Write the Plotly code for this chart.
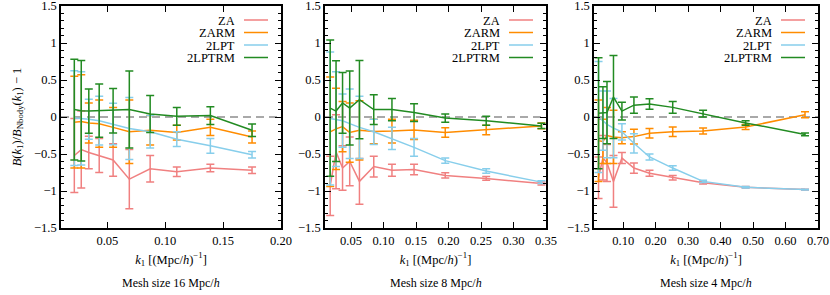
import plotly.graph_objects as go

# ---------------- data ----------------
series_names = ["ZA", "ZARM", "2LPT", "2LPTRM"]
panel_titles = ["Mesh size 16 Mpc/<i>h</i>", "Mesh size 8 Mpc/<i>h</i>", "Mesh size 4 Mpc/<i>h</i>"]

k16 = [0.0215, 0.0275, 0.034, 0.043, 0.055, 0.069, 0.087, 0.110, 0.139, 0.175]
za16 = [-0.52, -0.44, -0.48, -0.52, -0.58, -0.84, -0.70, -0.74, -0.69, -0.72]
za16_err = [0.50, 0.52, 0.22, 0.23, 0.22, 0.40, 0.18, 0.065, 0.05, 0.045]
zarm16 = [-0.07, -0.06, -0.08, -0.09, -0.14, -0.20, -0.18, -0.21, -0.14, -0.27]
zarm16_err = [0.62, 0.63, 0.27, 0.32, 0.27, 0.43, 0.20, 0.10, 0.11, 0.08]
lpt16 = [-0.015, -0.02, -0.03, -0.05, -0.095, -0.155, -0.20, -0.30, -0.39, -0.51]
lpt16_err = [0.64, 0.63, 0.27, 0.33, 0.28, 0.42, 0.22, 0.10, 0.10, 0.045]
lptrm16 = [0.10, 0.085, 0.08, 0.085, 0.085, 0.10, 0.04, 0.01, 0.02, -0.18]
lptrm16_err = [0.68, 0.68, 0.30, 0.36, 0.30, 0.52, 0.25, 0.12, 0.12, 0.085]

k8 = [0.018, 0.027, 0.037, 0.048, 0.063, 0.085, 0.113, 0.147, 0.195, 0.258, 0.343]
za8 = [-0.93, -0.47, -0.69, -0.60, -0.87, -0.67, -0.72, -0.71, -0.79, -0.83, -0.90]
za8_err = [0.40, 0.50, 0.30, 0.33, 0.31, 0.14, 0.08, 0.07, 0.035, 0.025, 0.02]
zarm8 = [-0.20, -0.16, -0.13, -0.21, -0.18, -0.195, -0.19, -0.175, -0.21, -0.175, -0.12]
zarm8_err = [0.74, 0.55, 0.34, 0.40, 0.40, 0.165, 0.16, 0.13, 0.065, 0.065, 0.04]
lpt8 = [-0.02, -0.03, -0.05, -0.09, -0.14, -0.20, -0.29, -0.41, -0.59, -0.73, -0.88]
lpt8_err = [0.90, 0.64, 0.36, 0.47, 0.42, 0.17, 0.15, 0.12, 0.035, 0.03, 0.02]
lptrm8 = [0.12, 0.08, 0.19, 0.12, 0.235, 0.10, 0.10, 0.06, -0.015, -0.05, -0.12]
lptrm8_err = [0.92, 0.68, 0.41, 0.50, 0.53, 0.20, 0.15, 0.12, 0.055, 0.06, 0.035]

k4 = [0.024, 0.0375, 0.05, 0.07, 0.096, 0.133, 0.181, 0.2525, 0.346, 0.477, 0.66]
za4 = [-0.82, -0.55, -0.62, -0.87, -0.555, -0.69, -0.76, -0.82, -0.89, -0.95, -0.98]
za4_err = [0.28, 0.30, 0.25, 0.35, 0.075, 0.07, 0.04, 0.03, 0.015, 0.01, 0.005]
zarm4 = [-0.32, -0.33, -0.25, -0.27, -0.28, -0.265, -0.22, -0.20, -0.19, -0.135, 0.03]
zarm4_err = [0.55, 0.30, 0.38, 0.36, 0.08, 0.10, 0.065, 0.065, 0.04, 0.035, 0.04]
lpt4 = [0.0, -0.05, -0.10, -0.15, -0.20, -0.355, -0.54, -0.69, -0.87, -0.95, -0.98]
lpt4_err = [0.75, 0.40, 0.45, 0.40, 0.11, 0.13, 0.04, 0.03, 0.015, 0.01, 0.005]
lptrm4 = [0.05, 0.06, 0.06, 0.27, 0.08, 0.16, 0.175, 0.13, 0.045, -0.08, -0.235]
lptrm4_err = [0.75, 0.35, 0.42, 0.56, 0.12, 0.11, 0.07, 0.08, 0.045, 0.03, 0.02]

x_ranges = [[0.01, 0.20], [0.01, 0.35], [0.01, 0.70]]
x_dticks = [0.05, 0.05, 0.1]

# ---------------- style ----------------
colors = ["#F08080", "#FF8C00", "#87CEEB", "#228B22"]
FONT = "Liberation Serif"
W, H = 830, 295
x_domains_px = [(61, 281), (325, 546), (594, 818)]
y_top_px, y_bot_px = 6, 228

panels = [
    (k16, [(za16, za16_err), (zarm16, zarm16_err), (lpt16, lpt16_err), (lptrm16, lptrm16_err)]),
    (k8, [(za8, za8_err), (zarm8, zarm8_err), (lpt8, lpt8_err), (lptrm8, lptrm8_err)]),
    (k4, [(za4, za4_err), (zarm4, zarm4_err), (lpt4, lpt4_err), (lptrm4, lptrm4_err)]),
]

fig = go.Figure()
shapes = []
annotations = []

for p, (k, series) in enumerate(panels):
    xa = "x" if p == 0 else f"x{p+1}"
    ya = "y" if p == 0 else f"y{p+1}"
    for s, (vals, errs) in enumerate(series):
        fig.add_trace(go.Scatter(
            x=k, y=vals, mode="lines", name=series_names[s],
            line=dict(color=colors[s], width=1.5),
            error_y=dict(type="data", array=errs, symmetric=True,
                         color=colors[s], thickness=1.5, width=4),
            xaxis=xa, yaxis=ya, showlegend=False,
        ))
    # zero reference line
    shapes.append(dict(type="line", xref=f"{xa} domain", yref=ya,
                       x0=0, x1=1, y0=0, y1=0, layer="below",
                       line=dict(color="#555555", width=1.2, dash="8px,5px")))
    # legend (text then line sample, like the original)
    left_px, right_px = x_domains_px[p]
    for s, name in enumerate(series_names):
        ypx = 20 + 12.5 * s
        yp = 1 - ypx / H
        annotations.append(dict(text=name, xref="paper", yref="paper",
                                x=(right_px - 44) / W, y=yp, xanchor="right",
                                yanchor="middle", showarrow=False, height=11,
                                valign="middle",
                                font=dict(family=FONT, size=12.5, color="black")))
        shapes.append(dict(type="line", xref="paper", yref="paper",
                           x0=(right_px - 37) / W, x1=(right_px - 13) / W,
                           y0=yp, y1=yp, line=dict(color=colors[s], width=1.5)))
    # panel caption
    annotations.append(dict(text=panel_titles[p], xref="paper", yref="paper",
                            x=(left_px + right_px) / 2 / W, y=1 - 283 / H,
                            xanchor="center", yanchor="middle", showarrow=False,
                            font=dict(family=FONT, size=12, color="black")))

common_axis = dict(showline=True, linecolor="black", linewidth=1.5, mirror="ticks",
                   ticks="inside", ticklen=6, tickwidth=1.2, tickcolor="black",
                   showgrid=False, zeroline=False, automargin=False,
                   ticklabeloverflow="allow",
                   tickfont=dict(family=FONT, size=12.5, color="black"))

layout = dict(width=W, height=H, margin=dict(l=0, r=0, t=0, b=0, autoexpand=False),
              plot_bgcolor="white", paper_bgcolor="white",
              font=dict(family=FONT, size=12, color="black"),
              shapes=shapes, annotations=annotations, showlegend=False)

for p in range(3):
    left_px, right_px = x_domains_px[p]
    xkey = "xaxis" if p == 0 else f"xaxis{p+1}"
    ykey = "yaxis" if p == 0 else f"yaxis{p+1}"
    layout[xkey] = dict(common_axis, domain=[left_px / W, right_px / W],
                        range=x_ranges[p], tick0=0, dtick=x_dticks[p], tickformat=".2f",
                        anchor="y" if p == 0 else f"y{p+1}",
                        title=dict(text="<i>k</i><sub>1</sub> [(Mpc/<i>h</i>)<sup>−1</sup>]",
                                   standoff=8, font=dict(family=FONT, size=12.5)))
    ydict = dict(common_axis, domain=[1 - y_bot_px / H, 1 - y_top_px / H],
                 range=[-1.5, 1.5], tick0=0, dtick=0.5,
                 anchor="x" if p == 0 else f"x{p+1}",
                 minor=dict(dtick=0.1, ticks="inside", ticklen=3, tickcolor="black", tickwidth=1))
    if p == 0:
        ydict["title"] = dict(text="<i>B</i>(<i>k</i><sub>1</sub>)/<i>B</i><sub>Nbody</sub>(<i>k</i><sub>1</sub>) − 1",
                              standoff=10, font=dict(family=FONT, size=12.5))
    layout[ykey] = ydict

fig.update_layout(**layout)
fig.write_html("out.html", config={"displayModeBar": False},
               post_script="document.body.style.margin='0';document.body.style.overflow='hidden';")
